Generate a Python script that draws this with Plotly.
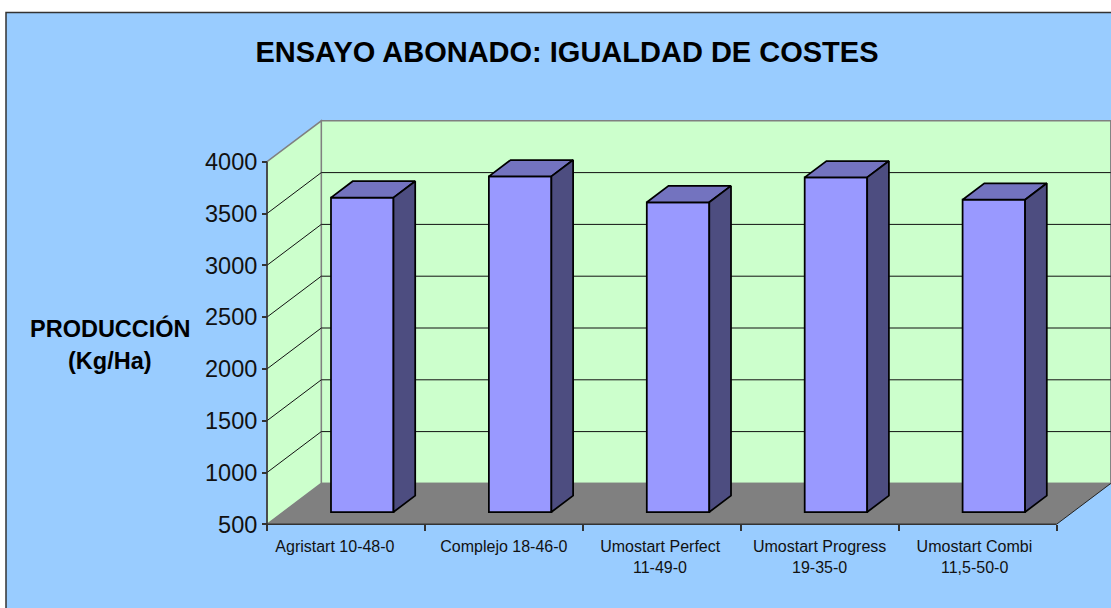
import numpy as np
import plotly.graph_objects as go

# --- data ---
label_line1 = ["Agristart 10-48-0", "Complejo 18-46-0", "Umostart Perfect", "Umostart Progress", "Umostart Combi"]
label_line2 = ["", "", "11-49-0", "19-35-0", "11,5-50-0"]
production = [3535, 3740, 3490, 3730, 3515]
y_ticks = [500, 1000, 1500, 2000, 2500, 3000, 3500, 4000]
title_text = "ENSAYO ABONADO: IGUALDAD DE COSTES"
y_title = ["PRODUCCIÓN", "(Kg/Ha)"]

# --- page geometry (pixels) ---
W, H = 1111, 608
X0_PX, CAT_PX = 267.0, 157.9
Y0_PX, UNIT_PX = 524.3, 0.1036     # pixel row of 500, pixels per unit
DEPTH_X_PX, DEPTH_Y_PX = 54.3, 40.9
BAR_FRONT, BAR_BACK = 0.30, 0.70   # bar's depth span
BAR_W = 62.5 / CAT_PX
BAR_LINE = 1.75
label_shift = [-0.07, 0, -0.01, 0, -0.02]

DX = DEPTH_X_PX / CAT_PX
DY = DEPTH_Y_PX / UNIT_PX
YMIN, YMAX = y_ticks[0], y_ticks[-1]
N = len(production)
x_range = [-X0_PX / CAT_PX, (W - X0_PX) / CAT_PX]
y_range = [YMIN - (H - Y0_PX) / UNIT_PX, YMIN + Y0_PX / UNIT_PX]

BG, WALL, FLOOR = "#99CCFF", "#CCFFCC", "#808080"
FRONT, TOP, SIDE = "#9999FF", "#7373BF", "#4D4D80"
GREY, DARK = "#808080", "#333333"
FONT = "Liberation Sans"


def poly(pts):
    return "M" + "L".join(f"{x:.4f},{y:.2f}" for x, y in pts) + "Z"


shapes = [
    dict(type="rect", xref="paper", yref="paper", x0=6 / W, x1=1.02, y0=-0.02, y1=1 - 12.5 / H,
         fillcolor=BG, line=dict(color=DARK, width=1.5), layer="below"),
    dict(type="path", path=poly([(DX, YMIN + DY), (N + DX, YMIN + DY), (N + DX, YMAX + DY), (DX, YMAX + DY)]),
         fillcolor=WALL, line=dict(color=GREY, width=1.5), layer="below"),
    dict(type="path", path=poly([(0, YMIN), (DX, YMIN + DY), (DX, YMAX + DY), (0, YMAX)]),
         fillcolor=WALL, line=dict(color=GREY, width=1.5), layer="below"),
]
for t in y_ticks[1:-1]:
    shapes.append(dict(type="line", x0=0, y0=t, x1=DX, y1=t + DY, line=dict(color="#111111", width=1), layer="below"))
    shapes.append(dict(type="line", x0=DX, y0=t + DY, x1=N + DX, y1=t + DY, line=dict(color="#111111", width=1), layer="below"))
shapes += [
    dict(type="path", path=poly([(0, YMIN), (N, YMIN), (N + DX, YMIN + DY), (DX, YMIN + DY)]),
         fillcolor=FLOOR, line=dict(width=0), layer="below"),
    dict(type="line", x0=DX, y0=YMIN + DY, x1=N + DX, y1=YMIN + DY, line=dict(color=GREY, width=1.5), layer="below"),
    dict(type="line", x0=N, y0=YMIN, x1=N + DX, y1=YMIN + DY, line=dict(color="#222222", width=1), layer="below"),
    dict(type="line", x0=0, y0=YMIN, x1=N, y1=YMIN, line=dict(color=DARK, width=1.5), layer="below"),
    dict(type="line", x0=0, y0=YMIN, x1=0, y1=YMAX, line=dict(color=DARK, width=1.5), layer="below"),
]

values = np.array(production, dtype=float)
centers = np.arange(N) + 0.5 + BAR_FRONT * DX
shift_f = BAR_FRONT * DY
depth_x = (BAR_BACK - BAR_FRONT) * DX
depth_y = (BAR_BACK - BAR_FRONT) * DY

fig = go.Figure()
fig.add_trace(go.Bar(
    x=centers, y=values - YMIN, base=YMIN + shift_f, width=BAR_W,
    marker=dict(color=FRONT, line=dict(color="black", width=BAR_LINE)), showlegend=False,
))


def faces(kind):
    xs, ys = [], []
    for c, v in zip(centers, values):
        left, right = c - BAR_W / 2, c + BAR_W / 2
        top, bot = v + shift_f, YMIN + shift_f
        if kind == "top":
            px = [left, right, right + depth_x, left + depth_x, left]
            py = [top, top, top + depth_y, top + depth_y, top]
        else:
            px = [right, right + depth_x, right + depth_x, right, right]
            py = [bot, bot + depth_y, top + depth_y, top, bot]
        xs += px + [None]
        ys += py + [None]
    return xs, ys


for kind, col in (("top", TOP), ("side", SIDE)):
    xs, ys = faces(kind)
    fig.add_trace(go.Scatter(x=xs, y=ys, mode="lines", fill="toself", fillcolor=col,
                             line=dict(color="black", width=BAR_LINE), showlegend=False, hoverinfo="skip"))

annotations = []
for i, txt in enumerate(label_line2):
    if txt:
        annotations.append(dict(x=i + 0.5 + label_shift[i], yref="paper", y=1 - 567.5 / H, xref="x", text=txt,
                                showarrow=False, xanchor="center", yanchor="middle",
                                font=dict(family=FONT, size=16, color="#111111")))
for txt, py in zip(y_title, (328.5, 361)):
    annotations.append(dict(xref="paper", yref="paper", x=110 / W, y=1 - py / H, text=f"<b>{txt}</b>",
                            showarrow=False, xanchor="center", yanchor="middle",
                            font=dict(family=FONT, size=23.5, color="black")))

fig.update_layout(
    width=W, height=H, margin=dict(l=0, r=0, t=0, b=0), autosize=False,
    paper_bgcolor="white", plot_bgcolor="rgba(0,0,0,0)", barmode="overlay",
    showlegend=False, shapes=shapes, annotations=annotations,
    title=dict(text=f"<b>{title_text}</b>", x=567 / W, y=1 - 52 / H, xanchor="center", yanchor="middle",
               font=dict(family=FONT, size=29, color="black")),
    xaxis=dict(range=x_range, anchor="free", position=(H - Y0_PX) / H, showgrid=False, zeroline=False,
               showline=False, tickmode="array",
               tickvals=[i + 0.5 + s for i, s in enumerate(label_shift)], ticktext=label_line1,
               ticks="outside", ticklen=7, tickcolor="rgba(0,0,0,0)",
               tickfont=dict(family=FONT, size=16, color="#111111"),
               minor=dict(tickmode="array", tickvals=list(range(N + 1)), ticks="outside", ticklen=6,
                          tickcolor=DARK, tickwidth=1.5, showgrid=False)),
    yaxis=dict(range=y_range, anchor="free", position=X0_PX / W, showgrid=False, zeroline=False,
               showline=False, tickmode="array", tickvals=y_ticks,
               ticks="outside", ticklen=5, tickcolor=DARK, tickwidth=1.5,
               tickfont=dict(family=FONT, size=23.5, color="#111111")),
)

fig.write_html("out.html", config=dict(displayModeBar=False), post_script="document.body.style.margin='0';")
